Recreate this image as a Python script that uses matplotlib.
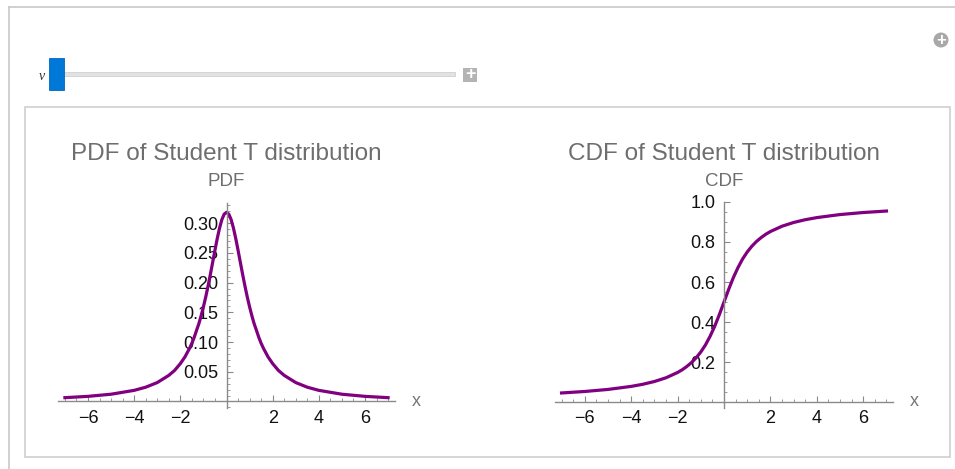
import matplotlib.pyplot as plt
import numpy as np
from matplotlib.patches import Rectangle, Ellipse
from matplotlib.ticker import MultipleLocator, FixedLocator

plt.rcParams['font.family'] = ['Liberation Sans', 'DejaVu Sans']

# values (nu = 1)
pdf_x = [-7, -6, -5, -4, -3.5, -3, -2.5, -2.25, -2, -1.8, -1.6, -1.5, -1.4, -1.3, -1.2, -1.1,
         -1, -0.9, -0.8, -0.7, -0.6, -0.5, -0.4, -0.3, -0.2, -0.1, 0, 0.1, 0.2, 0.3, 0.4,
         0.5, 0.6, 0.7, 0.8, 0.9, 1, 1.1, 1.2, 1.3, 1.4, 1.5, 1.6, 1.8, 2, 2.25, 2.5, 3,
         3.5, 4, 5, 6, 7]
pdf_y = [0.0064, 0.0086, 0.0122, 0.0187, 0.0240, 0.0318, 0.0439, 0.0522, 0.0637, 0.0750,
         0.0895, 0.0979, 0.1078, 0.1194, 0.1306, 0.1441, 0.1592, 0.1758, 0.1941, 0.2136,
         0.2341, 0.2546, 0.2744, 0.2920, 0.3061, 0.3152, 0.3183, 0.3152, 0.3061, 0.2920,
         0.2744, 0.2546, 0.2341, 0.2136, 0.1941, 0.1758, 0.1592, 0.1441, 0.1306, 0.1194,
         0.1078, 0.0979, 0.0895, 0.0750, 0.0637, 0.0522, 0.0439, 0.0318, 0.0240, 0.0187,
         0.0122, 0.0086, 0.0064]

cdf_x = [-7, -6, -5, -4, -3.5, -3, -2.5, -2, -1.8, -1.6, -1.4, -1.2, -1, -0.8, -0.6, -0.4,
         -0.2, 0, 0.2, 0.4, 0.6, 0.8, 1, 1.2, 1.4, 1.6, 1.8, 2, 2.5, 3, 3.5, 4, 5, 6, 7]
cdf_y = [0.0452, 0.0526, 0.0628, 0.0780, 0.0886, 0.1024, 0.1211, 0.1476, 0.1613, 0.1778,
         0.1974, 0.2211, 0.2500, 0.2852, 0.3284, 0.3789, 0.4372, 0.5000, 0.5628, 0.6211,
         0.6716, 0.7148, 0.7500, 0.7789, 0.8026, 0.8222, 0.8387, 0.8524, 0.8789, 0.8976,
         0.9114, 0.9220, 0.9372, 0.9474, 0.9548]

x_ticks = [-6, -4, -2, 2, 4, 6]
x_labels = ['\u22126', '\u22124', '\u22122', '2', '4', '6']
pdf_ticks = [0.05, 0.10, 0.15, 0.20, 0.25, 0.30]
pdf_labels = ['0.05', '0.10', '0.15', '0.20', '0.25', '0.30']
cdf_ticks = [0.2, 0.4, 0.6, 0.8, 1.0]
cdf_labels = ['0.2', '0.4', '0.6', '0.8', '1.0']

W, H = 955, 469
fig = plt.figure(figsize=(W / 100, H / 100), dpi=100)


def px(x, y):
    return x / W, 1 - y / H


def rect(x0, y0, x1, y1, **kw):
    fx, fy = px(x0, y1)
    fig.add_artist(Rectangle((fx, fy), (x1 - x0) / W, (y1 - y0) / H,
                             transform=fig.transFigure, zorder=-1, **kw))


# outer frame (only top and left visible)
fig.add_artist(plt.Line2D([9 / W, 1], [1 - 7 / H, 1 - 7 / H], color='#c8c8c8', lw=1.2, zorder=-1))
fig.add_artist(plt.Line2D([9 / W, 9 / W], [1 - 7 / H, 0], color='#c8c8c8', lw=1.2, zorder=-1))
# inner panel
rect(25, 107, 950, 457, facecolor='white', edgecolor='#cfcfcf', lw=1.2)

# slider
rect(64, 72, 455, 76, facecolor='#e2e2e2', edgecolor='#d0d0d0', lw=0.6)
rect(49, 58, 64, 90, facecolor='#0078d7', edgecolor='#0068c0', lw=0.6)
rect(463, 68, 477, 82, facecolor='#b4b4b4', edgecolor='none')
fig.text(*px(470, 75), '+', color='white', fontsize=13, ha='center', va='center',
         fontweight='bold')
fig.text(*px(42, 76), '\u03bd', color='#333333', fontsize=10, ha='center', va='center',
         style='italic', family=['Liberation Serif', 'DejaVu Serif'])
# plus circle icon
cx, cy = px(941, 40)
fig.add_artist(Ellipse((cx, cy), 15 / W, 15 / H, transform=fig.transFigure,
                       facecolor='#a8a8a8', edgecolor='none', zorder=-1))
fig.text(cx, cy, '+', color='white', fontsize=12, ha='center', va='center',
         fontweight='bold')

purple = '#800080'
axis_col = '#8a8a8a'


def setup(ax, yticks, ylabels, yminor):
    for s in ['top', 'right']:
        ax.spines[s].set_visible(False)
    ax.spines['left'].set_position(('data', 0))
    ax.spines['bottom'].set_position(('data', 0))
    for s in ['left', 'bottom']:
        ax.spines[s].set_color(axis_col)
        ax.spines[s].set_linewidth(1.0)
    ax.xaxis.set_major_locator(FixedLocator(x_ticks))
    ax.set_xticklabels(x_labels)
    ax.xaxis.set_minor_locator(MultipleLocator(0.5))
    ax.yaxis.set_major_locator(FixedLocator(yticks))
    ax.set_yticklabels(ylabels)
    ax.yaxis.set_minor_locator(MultipleLocator(yminor))
    ax.tick_params(which='major', direction='in', length=4.5, width=0.8, color=axis_col,
                   labelsize=13, labelcolor='#111111')
    ax.tick_params(which='minor', direction='in', length=2.5, width=0.6, color=axis_col)
    ax.tick_params(axis='x', pad=6)
    ax.tick_params(axis='y', pad=6)
    ax.patch.set_alpha(0)


ax1 = fig.add_axes([58 / W, 1 - 408 / H, 337 / W, 205 / H])
ax1.plot(pdf_x, pdf_y, color=purple, lw=2.3)
ax1.set_xlim(-7.3, 7.3)
ax1.set_ylim(-0.011, 0.334)
setup(ax1, pdf_ticks, pdf_labels, 0.01)

ax2 = fig.add_axes([554.6 / W, 1 - 408 / H, 338.8 / W, 206 / H])
ax2.plot(cdf_x, cdf_y, color=purple, lw=2.3)
ax2.set_xlim(-7.3, 7.3)
ax2.set_ylim(-0.03, 1.0)
setup(ax2, cdf_ticks, cdf_labels, 0.05)

# titles and axis labels
fig.text(*px(226, 154), 'PDF of Student T distribution', color='#6e6e6e', fontsize=17.5,
         ha='center', va='center')
fig.text(*px(226, 181), 'PDF', color='#6e6e6e', fontsize=13.5, ha='center', va='center')
fig.text(*px(416, 402), 'x', color='#777777', fontsize=13, ha='center', va='center')
fig.text(*px(724, 154), 'CDF of Student T distribution', color='#6e6e6e', fontsize=17.5,
         ha='center', va='center')
fig.text(*px(724, 181), 'CDF', color='#6e6e6e', fontsize=13.5, ha='center', va='center')
fig.text(*px(914, 402), 'x', color='#777777', fontsize=13, ha='center', va='center')

plt.savefig('out.png', dpi=100)
